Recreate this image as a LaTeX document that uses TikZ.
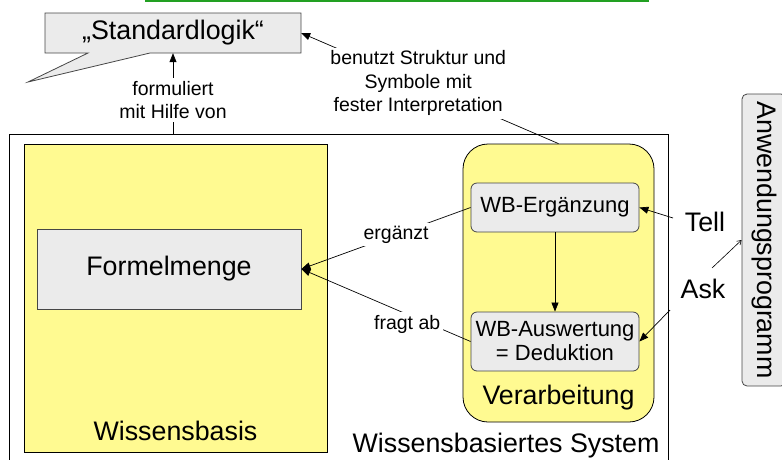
\documentclass[tikz,border=0pt]{standalone}
\usepackage{fontspec}
\setmainfont{Liberation Sans}
\usetikzlibrary{arrows.meta,positioning}
\definecolor{boxgray}{RGB}{235,235,235}
\definecolor{boxline}{RGB}{70,70,70}
\definecolor{wbyellow}{RGB}{255,250,145}
\definecolor{topgreen}{RGB}{34,160,34}
\tikzset{
  big/.style={font=\fontsize{26.8}{31}\selectfont},
  mid/.style={font=\fontsize{22}{26}\selectfont},
  small/.style={font=\fontsize{19.5}{23.5}\selectfont},
  graybox/.style={draw=boxline, fill=boxgray, line width=0.8pt, inner sep=0pt},
  yellowbox/.style={draw=black, fill=wbyellow, line width=0.8pt, inner sep=0pt},
  arr/.style={line width=0.7pt, -{Triangle[length=9pt,width=7pt]}},
  lbl/.style={small, fill=white, inner sep=3pt, align=center},
}
\begin{document}
\begin{tikzpicture}[x=1pt,y=-1pt]
\useasboundingbox (0,0) rectangle (782,459);
\clip (0,0) rectangle (782,459);
% green line at top
\draw[topgreen, line width=2pt] (145,1) -- (649,1);
% speech bubble
\draw[draw=boxline, fill=boxgray, line width=0.8pt, line join=miter]
  (45,13) -- (301,13) -- (301,53) -- (150,53) -- (28,82) -- (88,53) -- (45,53) -- cycle;
\node[big, minimum width=256pt, minimum height=40pt, inner sep=0pt] (std) at (173,33) {„Standardlogik“};
% outer system box
\node[draw=black, line width=0.9pt, minimum width=659pt, minimum height=336pt, inner sep=0pt] (wbs) at (338.5,302) {};
\node[big, anchor=base] (wbslbl) at (506,452) {Wissensbasiertes System};
% Wissensbasis
\node[yellowbox, minimum width=303pt, minimum height=308pt] (wb) at (175.5,298) {};
\node[big, anchor=base] (wblbl) at (175.5,440) {Wissensbasis};
\node[graybox, big, minimum width=264pt, minimum height=80pt] (fm) at (169,269) {Formelmenge};
% Verarbeitung
\node[yellowbox, rounded corners=25pt, minimum width=191pt, minimum height=278pt] (verarb) at (558.5,283) {};
\node[big, anchor=base] (verlbl) at (558.5,404) {Verarbeitung};
\node[graybox, mid, rounded corners=6pt, minimum width=168pt, minimum height=49pt] (wbe) at (555,207.5) {WB-Ergänzung};
\node[graybox, mid, rounded corners=6pt, minimum width=168pt, minimum height=59pt, align=center] (wba) at (555,341.5) {WB-Auswertung\\[-2pt]= Deduktion};
% Anwendungsprogramm
\node[graybox, big, rounded corners=5pt, rotate=-90, minimum width=292pt, minimum height=44pt] (prog) at (764,240) {Anwendungsprogramm};
% Tell / Ask
\node[big] (tell) at (705,222) {Tell};
\node[big] (ask) at (703,289) {Ask};
\coordinate (tellstart) at (673,218);
\coordinate (askstart) at (670,310);
\coordinate (progend) at (712,268);
% connectors
\draw[arr] (std.south |- wbs.north) -- node[lbl, pos=0.42] {formuliert\\mit Hilfe von} (std.south);
\draw[arr] (verarb.north) -- node[lbl, pos=0.545] {benutzt Struktur und\\Symbole mit\\fester Interpretation} (std.east);
\draw[arr] (wbe.west) -- node[lbl, pos=0.44] {ergänzt} (fm.east);
\draw[arr] (wba.west) -- node[lbl, pos=0.375, yshift=-10pt] {fragt ab} (fm.east);
\draw[arr] (wbe.south) -- (wba.north);
\draw[arr] (tellstart) -- (wbe.east);
\draw[arr] (askstart) -- (wba.east);
\draw[line width=0.6pt, -{Straight Barb[length=4pt,width=5pt]}] (progend) -- (prog.south);
\end{tikzpicture}
\end{document}
